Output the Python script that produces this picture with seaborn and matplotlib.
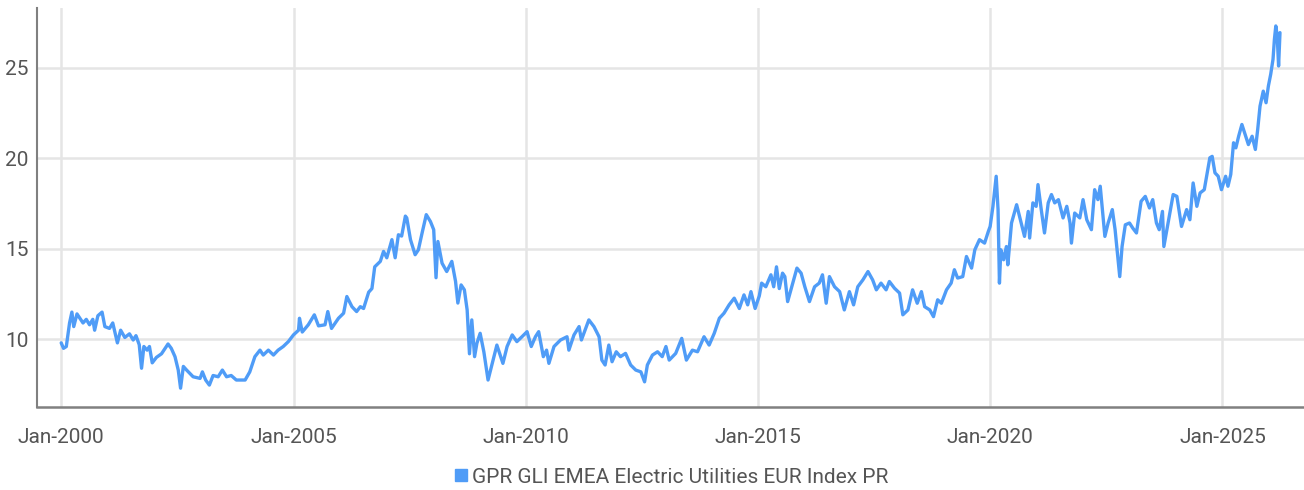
import pandas as pd
import seaborn as sns
import matplotlib.pyplot as plt
import matplotlib.dates as mdates
from matplotlib.lines import Line2D

# Values (offset in years from Jan-2000, index level)
years_offset = [
    0.00, 0.05, 0.11, 0.18, 0.23, 0.27, 0.34, 0.47, 0.54, 0.61, 0.68, 0.72, 0.79, 0.88, 0.94,
    1.04, 1.11, 1.21, 1.28, 1.37, 1.47, 1.55, 1.61, 1.68, 1.73, 1.78, 1.85, 1.90, 1.96,
    2.05, 2.16, 2.30, 2.37, 2.45, 2.52, 2.57, 2.63, 2.70, 2.84, 2.99,
    3.04, 3.11, 3.19, 3.27, 3.38, 3.47, 3.56, 3.66, 3.77, 3.96,
    4.06, 4.17, 4.28, 4.35, 4.46, 4.57, 4.67, 4.78, 4.89,
    5.00, 5.11, 5.13, 5.19, 5.32, 5.45, 5.54, 5.68, 5.74, 5.82, 5.97,
    6.08, 6.15, 6.26, 6.36, 6.44, 6.51, 6.62, 6.69, 6.75, 6.87, 6.94,
    7.01, 7.12, 7.19, 7.26, 7.33, 7.41, 7.44, 7.52, 7.62, 7.69, 7.77, 7.86, 7.95,
    8.02, 8.07, 8.11, 8.20, 8.30, 8.41, 8.49, 8.54, 8.61, 8.68, 8.74, 8.79, 8.84, 8.90, 8.95,
    9.02, 9.10, 9.19, 9.28, 9.38, 9.51, 9.60, 9.71, 9.81, 9.92,
    10.03, 10.12, 10.21, 10.28, 10.38, 10.45, 10.50, 10.61, 10.75, 10.89, 10.93,
    11.04, 11.15, 11.20, 11.36, 11.47, 11.58, 11.64, 11.71, 11.79, 11.86, 11.95,
    12.04, 12.15, 12.26, 12.37, 12.48, 12.56, 12.62, 12.73, 12.84, 12.94,
    13.02, 13.09, 13.23, 13.36, 13.46, 13.59, 13.70, 13.84, 13.95,
    14.06, 14.17, 14.27, 14.38, 14.49, 14.60, 14.70, 14.78, 14.85, 14.94,
    15.03, 15.08, 15.17, 15.28, 15.34, 15.40, 15.46, 15.53, 15.58, 15.64, 15.75, 15.84, 15.93,
    16.01, 16.11, 16.22, 16.32, 16.39, 16.47, 16.54, 16.65, 16.76, 16.86, 16.97,
    17.06, 17.15, 17.26, 17.37, 17.47, 17.55, 17.65, 17.76, 17.83, 17.94,
    18.05, 18.12, 18.23, 18.33, 18.43, 18.52, 18.59, 18.70, 18.78, 18.87, 18.95,
    19.06, 19.16, 19.23, 19.30, 19.41, 19.49, 19.60, 19.67, 19.77, 19.88, 19.96,
    20.00, 20.06, 20.13, 20.17, 20.20, 20.23, 20.29, 20.35, 20.38, 20.46, 20.57, 20.64,
    20.74, 20.82, 20.85, 20.92, 20.99,
    21.03, 21.10, 21.17, 21.25, 21.32, 21.39, 21.47, 21.57, 21.65, 21.72, 21.75, 21.82, 21.93,
    22.00, 22.08, 22.18, 22.25, 22.32, 22.37, 22.41, 22.47, 22.54, 22.63, 22.69, 22.76,
    22.79, 22.84, 22.91,
    23.00, 23.07, 23.15, 23.25, 23.34, 23.43, 23.50, 23.58, 23.64, 23.71, 23.74, 23.83, 23.94,
    24.02, 24.12, 24.23, 24.30, 24.37, 24.45, 24.52, 24.61, 24.66, 24.73, 24.78, 24.84,
    24.91, 24.98,
    25.07, 25.12, 25.18, 25.24, 25.29, 25.35, 25.42, 25.49, 25.56, 25.64, 25.71, 25.76,
    25.81, 25.88, 25.94, 25.99,
    26.04, 26.09, 26.12, 26.15, 26.18, 26.21, 26.24,
]

index_values = [
    9.8, 9.5, 9.6, 10.9, 11.5, 10.7, 11.4, 10.9, 11.1, 10.8, 11.1, 10.5, 11.3, 11.5, 10.7,
    10.6, 10.9, 9.8, 10.5, 10.1, 10.3, 9.96, 10.2, 9.7, 8.4, 9.6, 9.4, 9.6, 8.7,
    9.0, 9.2, 9.74, 9.5, 9.04, 8.3, 7.3, 8.5, 8.3, 7.93, 7.84,
    8.2, 7.75, 7.47, 8.0, 7.93, 8.3, 7.93, 8.0, 7.75, 7.75,
    8.2, 9.04, 9.4, 9.13, 9.4, 9.13, 9.4, 9.6, 9.87,
    10.24, 10.5, 11.16, 10.4, 10.8, 11.35, 10.74, 10.8, 11.53, 10.6, 11.16,
    11.44, 12.36, 11.8, 11.53, 11.8, 11.7, 12.6, 12.8, 14.0, 14.3, 14.85,
    14.5, 15.5, 14.5, 15.77, 15.7, 16.8, 16.7, 15.5, 14.67, 14.94, 15.87, 16.88, 16.5,
    16.05, 13.4, 15.4, 14.2, 13.74, 14.3, 13.2, 12.0, 13.0, 12.73, 11.62, 9.2, 11.07, 9.04, 9.78,
    10.33, 9.3, 7.75, 8.67, 9.68, 8.67, 9.6, 10.24, 9.87, 10.14,
    10.42, 9.6, 10.14, 10.42, 9.04, 9.4, 8.67, 9.6, 9.96, 10.14, 9.4,
    10.24, 10.7, 9.96, 11.07, 10.7, 10.14, 8.85, 8.58, 9.68, 8.76, 9.31,
    9.04, 9.22, 8.58, 8.3, 8.2, 7.65, 8.58, 9.13, 9.31, 9.04,
    9.6, 8.85, 9.22, 10.05, 8.85, 9.4, 9.31, 10.14, 9.68,
    10.33, 11.16, 11.44, 11.9, 12.27, 11.7, 12.45, 11.9, 12.63, 11.7,
    12.4, 13.1, 12.9, 13.56, 12.9, 14.0, 12.8, 13.65, 13.46, 12.08, 13.1, 13.93, 13.65,
    12.9, 12.08, 12.9, 13.1, 13.56, 11.99, 13.46, 12.9, 12.63, 11.62, 12.63,
    11.9, 12.9, 13.28, 13.74, 13.28, 12.73, 13.1, 12.73, 13.19, 12.82,
    12.55, 11.35, 11.62, 12.73, 11.99, 12.63, 11.8, 11.62, 11.25, 12.18, 11.99,
    12.73, 13.1, 13.84, 13.38, 13.46, 14.57, 13.93, 14.94, 15.5, 15.31, 15.95,
    16.23, 17.34, 19.0, 17.16, 13.1, 14.94, 14.39, 15.12, 14.11, 16.42, 17.43, 16.7,
    15.68, 17.06, 15.59, 17.53, 17.34,
    18.54, 17.16, 15.87, 17.53, 17.99, 17.53, 17.71, 16.7, 17.34, 16.42, 15.31, 16.97, 16.7,
    17.71, 16.6, 16.05, 18.26, 17.71, 18.45, 17.34, 15.68, 16.42, 17.16, 16.05, 14.2,
    13.46, 15.12, 16.32,
    16.42, 16.14, 15.87, 17.62, 17.89, 17.25, 17.71, 16.42, 16.05, 17.06, 15.12, 16.42, 17.99,
    17.89, 16.23, 17.16, 16.6, 18.63, 17.34, 18.08, 18.26, 19.0, 20.02, 20.1, 19.19,
    19.0, 18.26,
    19.0, 18.45, 19.1, 20.85, 20.57, 21.21, 21.86, 21.3, 20.75, 21.21, 20.48, 21.58,
    22.87, 23.7, 23.06, 23.98,
    24.63, 25.46, 26.56, 27.3, 26.75, 25.09, 26.93,
]

series_name = "GPR GLI EMEA Electric Utilities EUR Index PR"
y_ticks = [10, 15, 20, 25]
x_tick_years = [2000, 2005, 2010, 2015, 2020, 2025]

line_color = "#4f9cf7"
text_color = "#555555"

# Build dataframe
start = pd.Timestamp("2000-01-01")
df = pd.DataFrame({
    "date": [start + pd.Timedelta(days=y * 365.25) for y in years_offset],
    "value": index_values,
})

sns.set_theme(style="whitegrid")
plt.rcParams["font.family"] = ["Roboto", "DejaVu Sans"]

fig = plt.figure(figsize=(13.04, 4.9), dpi=100)
ax = fig.add_axes([0.0284, 0.169, 0.9716, 0.815])

sns.lineplot(data=df, x="date", y="value", ax=ax, color=line_color,
             linewidth=2.4, legend=False)

# Axes limits and ticks
ax.set_xlim(pd.Timestamp("1999-06-25"), pd.Timestamp("2026-10-04"))
ax.set_ylim(6.25, 28.3)
ax.set_yticks(y_ticks)
ax.set_xticks([pd.Timestamp(f"{y}-01-01") for y in x_tick_years])
ax.xaxis.set_major_formatter(mdates.DateFormatter("%b-%Y"))

ax.set_xlabel("")
ax.set_ylabel("")
ax.tick_params(axis="both", length=0, labelsize=15, colors=text_color)
ax.tick_params(axis="x", pad=15)
ax.tick_params(axis="y", pad=6)

# Grid and spines
ax.grid(True, color="#e5e5e5", linewidth=1.8)
ax.set_facecolor("white")
for side in ["top", "right"]:
    ax.spines[side].set_visible(False)
ax.spines["left"].set_color("#808080")
ax.spines["left"].set_linewidth(1.5)
ax.spines["bottom"].set_color("#808080")
ax.spines["bottom"].set_linewidth(1.8)

# Legend below the chart
handle = Line2D([], [], marker="s", linestyle="none", markersize=9,
                markerfacecolor=line_color, markeredgecolor=line_color)
leg = ax.legend([handle], [series_name], loc="upper center",
                bbox_to_anchor=(0.5, -0.125), frameon=False, fontsize=15,
                handletextpad=0.1, handlelength=0.8, borderpad=0)
for t in leg.get_texts():
    t.set_color(text_color)

plt.savefig("out.png", dpi=100)
